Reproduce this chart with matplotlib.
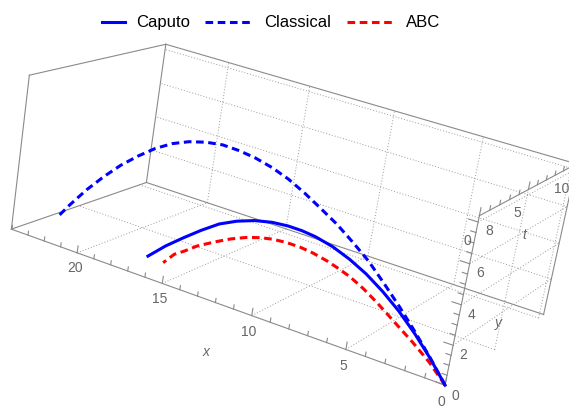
import numpy as np
import matplotlib
matplotlib.use('Agg')
import matplotlib.pyplot as plt
from mpl_toolkits.mplot3d import proj3d

plt.rcParams['font.family'] = ['Liberation Sans', 'DejaVu Sans']

# data: x (range), y (height), t (time)
cls_x = [0, 1, 2, 3, 4, 5, 6, 7, 8, 9, 10, 11, 12, 13, 14, 15, 16, 17, 18, 19, 20, 21, 22, 23, 23.7]
cls_y = [0, 0.98, 1.9, 2.75, 3.55, 4.3, 4.9, 5.45, 5.9, 6.33, 6.7, 6.95, 7.11, 7.17, 7.15, 6.97,
         6.68, 6.26, 5.68, 4.95, 4.13, 3.17, 2.11, 0.91, 0.0]
cls_t = [0, 0.13, 0.25, 0.38, 0.5, 0.63, 0.75, 0.88, 1.0, 1.13, 1.25, 1.38, 1.5, 1.63, 1.75, 1.88,
         2.0, 2.13, 2.25, 2.38, 2.5, 2.63, 2.75, 2.88, 2.96]

cap_x = [0, 1, 2, 3, 4, 5, 6, 7, 8, 8.8, 9.6, 10.5, 11.5, 12.5, 13.5, 14.5, 15.5, 16.5, 17.5]
cap_y = [0, 0.96, 1.81, 2.54, 3.15, 3.65, 4.03, 4.3, 4.45, 4.48, 4.44, 4.31, 4.05, 3.67, 3.17,
         2.48, 1.72, 0.92, 0.0]
cap_t = [0, 0.13, 0.25, 0.38, 0.5, 0.63, 0.75, 0.88, 1.0, 1.1, 1.2, 1.31, 1.44, 1.56, 1.69,
         1.81, 1.94, 2.06, 2.19]

abc_x = [0, 1, 2, 2.7, 3.5, 4.2, 5.0, 5.8, 6.5, 7.2, 8.0, 8.7, 9.5, 10.3, 11.0, 11.8, 12.7, 13.6,
         14.6, 15.3, 15.9, 16.5]
abc_y = [0, 0.75, 1.35, 1.72, 2.15, 2.52, 2.9, 3.2, 3.38, 3.52, 3.62, 3.65, 3.61, 3.5, 3.33, 3.06,
         2.66, 2.18, 1.6, 1.08, 0.68, 0.0]
abc_t = [0, 0.13, 0.25, 0.34, 0.44, 0.53, 0.63, 0.73, 0.81, 0.9, 1.0, 1.09, 1.19, 1.29, 1.38, 1.48,
         1.59, 1.7, 1.83, 1.91, 1.99, 2.06]

x_max, y_max, t_max = 24.04, 8.3, 10.6
x_major = [0, 5, 10, 15, 20]
y_major = [0, 2, 4, 6, 8]
t_major = [0, 5, 10]
x_minor = [v for v in range(1, 25) if v % 5]
y_minor = [v / 2 for v in range(1, 17) if v % 4]
t_minor = [v for v in range(1, 11) if v % 5]

fig = plt.figure(figsize=(5.69, 4.09), dpi=100)
ax = fig.add_axes([0.0116, -0.1763, 0.9727, 1.3533], projection='3d', computed_zorder=False)
ax.set_axis_off()
ax.patch.set_visible(False)
ax.set_xlim(0, t_max)
ax.set_ylim(0, x_max)
ax.set_zlim(0, y_max)
ax.view_init(17.647, -154.002, -9.502)
ax.set_box_aspect((1.0, 1.952, 0.650))
ax.set_proj_type('persp', focal_length=0.587)
M = ax.get_proj()

gray = '#8a8a8a'
tcol = '#666666'


def line(x, y, t, **kw):
    # matplotlib axes: X = t, Y = x, Z = y
    return ax.plot(t, x, y, clip_on=False, **kw)[0]


def text(x, y, t, s, **kw):
    px, py, _ = proj3d.proj_transform(t, x, y, M)
    ax.text2D(px, py, s, ha='center', va='center', color=tcol, **kw)


# box edges
X, Y, T = x_max, y_max, t_max
edges = [((0, 0, 0), (X, 0, 0)), ((0, 0, T), (X, 0, T)), ((0, Y, T), (X, Y, T)),
         ((0, 0, 0), (0, Y, 0)), ((X, 0, 0), (X, Y, 0)), ((0, 0, T), (0, Y, T)),
         ((X, 0, T), (X, Y, T)), ((X, 0, 0), (X, 0, T)), ((0, Y, 0), (0, Y, T)),
         ((X, Y, 0), (X, Y, T))]
for a, b in edges:
    line([a[0], b[0]], [a[1], b[1]], [a[2], b[2]], color=gray, lw=0.8, zorder=2)

# face grids: floor, back wall, x=0 face
gkw = dict(color='#9a9a9a', lw=0.7, ls=(0, (1, 2)), zorder=1)
for v in x_major[1:]:
    line([v, v], [0, 0], [0, T], **gkw)
    line([v, v], [0, Y], [T, T], **gkw)
for v in t_major[1:]:
    line([0, X], [0, 0], [v, v], **gkw)
    line([0, 0], [0, Y], [v, v], **gkw)
for v in y_major[1:]:
    line([0, X], [v, v], [T, T], **gkw)
    line([0, 0], [v, v], [0, T], **gkw)

# ticks
for v in x_major:
    line([v, v], [0, 0.38], [0, 0], color=gray, lw=0.8, zorder=2)
for v in x_minor:
    line([v, v], [0, 0.22], [0, 0], color=gray, lw=0.8, zorder=2)
for v in y_major:
    line([0, 0.45], [v, v], [0, 0], color=gray, lw=0.8, zorder=2)
for v in y_minor:
    line([0, 0.25], [v, v], [0, 0], color=gray, lw=0.8, zorder=2)
for v in t_major:
    line([0, 0], [Y, Y + 0.38], [v, v], color=gray, lw=0.8, zorder=2)
for v in t_minor:
    line([0, 0], [Y, Y + 0.22], [v, v], color=gray, lw=0.8, zorder=2)

for v in x_major:
    text(v, -0.85, 0, str(v), fontsize=10)
for v in y_major:
    text(-0.8, v, -0.6, str(v), fontsize=10)
for v in t_major:
    text(0, Y - 1.0, v - 0.75, str(v), fontsize=10)
text(12.1, -2.7, 0, 'x', fontsize=10, style='italic')
text(-1.4, 3.2, 1.1, 'y', fontsize=10, style='italic')
text(0, Y - 2.5, 5.7, 't', fontsize=10, style='italic')

dash = (0, (2.5, 1.5))
l_cls = line(cls_x, cls_y, cls_t, color='#0000ff', lw=2.2, ls=dash, zorder=5)
l_abc = line(abc_x, abc_y, abc_t, color='#ff0000', lw=2.2, ls=dash, zorder=5)
l_cap = line(cap_x, cap_y, cap_t, color='#0000ff', lw=2.2, zorder=6)

lkw = dict(loc='center left', frameon=False, fontsize=12, borderpad=0,
           borderaxespad=0, handletextpad=0.66)
fig.legend([l_cap], ['Caputo'], bbox_to_anchor=(102 / 569, 0.944), handlelength=1.38, **lkw)
fig.legend([l_cls], ['Classical'], bbox_to_anchor=(205 / 569, 0.944), handlelength=2.88, **lkw)
fig.legend([l_abc], ['ABC'], bbox_to_anchor=(347 / 569, 0.944), handlelength=2.88, **lkw)

fig.savefig('out.png', dpi=100)
